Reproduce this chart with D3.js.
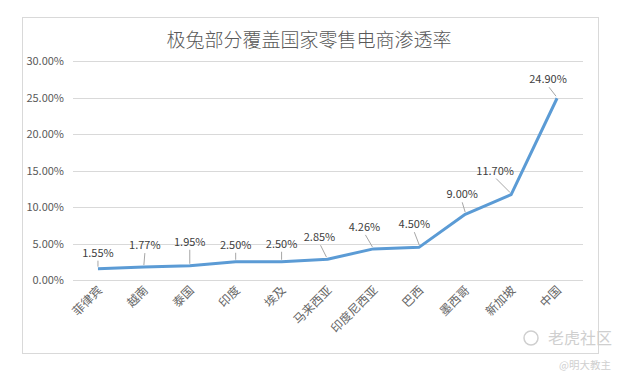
<!DOCTYPE html>
<html lang="zh">
<head>
<meta charset="UTF-8">
<title>极兔部分覆盖国家零售电商渗透率</title>
<style>
  body, html { margin: 0; padding: 0; background: #fff; }
  #svg { display: block; }
  text { font-family: "Noto Sans CJK SC", "Noto Sans", sans-serif; }
</style>
</head>
<body>
<svg id="svg" width="622" height="376"></svg>
<script src="https://d3js.org/d3.v7.min.js"></script>
<script>
// data
const countries = ['菲律宾', '越南', '泰国', '印度', '埃及', '马来西亚', '印度尼西亚', '巴西', '墨西哥', '新加坡', '中国']
const rates = [1.55, 1.77, 1.95, 2.50, 2.50, 2.85, 4.26, 4.50, 9.00, 11.70, 24.90]
const yTicks = [0, 5, 10, 15, 20, 25, 30]

// label nudges (dx, dy from the point), Excel moved them around by hand
const nudgeX = [0, 1, 0, 0, 0, -8, -9, -5, -3, -16, -9]
const nudgeY = [-16, -22, -24, -17, -18, -22, -22, -23, -20, -24, -19]

const svg = d3.select('#svg')

// chart frame
svg.append('rect')
  .attr('x', 22.5).attr('y', 17.5)
  .attr('width', 576).attr('height', 336)
  .attr('fill', '#fff')
  .attr('stroke', '#d9d9d9')

svg.append('text')
  .attr('x', 309).attr('y', 47)
  .attr('text-anchor', 'middle')
  .attr('font-size', 19)
  .attr('font-weight', 300)
  .attr('fill', '#595959')
  .text('极兔部分覆盖国家零售电商渗透率')

const xscale = d3.scaleBand()
  .domain(countries)
  .range([75, 580])

const yscale = d3.scaleLinear()
  .domain([0, 30])
  .range([280, 61])

// gridlines
svg.append('g')
  .selectAll('line')
  .data(yTicks)
  .join('line')
  .attr('x1', 73).attr('x2', 583)
  .attr('y1', d => Math.round(yscale(d)) + 0.5)
  .attr('y2', d => Math.round(yscale(d)) + 0.5)
  .attr('stroke', '#d9d9d9')

// y axis labels
svg.append('g')
  .selectAll('text')
  .data(yTicks)
  .join('text')
  .attr('x', 64)
  .attr('y', d => yscale(d) + 4)
  .attr('text-anchor', 'end')
  .attr('font-size', 11)
  .attr('fill', '#595959')
  .text(d => d.toFixed(2) + '%')

// x axis labels, rotated
const cx = d => xscale(d) + xscale.bandwidth() / 2
svg.append('g')
  .selectAll('text')
  .data(countries)
  .join('text')
  .attr('transform', d => `translate(${cx(d) + 5},${291}) rotate(-45)`)
  .attr('text-anchor', 'end')
  .attr('font-size', 12)
  .attr('fill', '#666')
  .attr('font-family', '"Noto Serif CJK SC", "Noto Sans CJK SC", serif')
  .text(d => d)

const pts = countries.map((c, i) => ({ c, v: rates[i], i }))

// the line
const linegen = d3.line()
  .x(d => cx(d.c))
  .y(d => yscale(d.v))

svg.append('path')
  .attr('d', linegen(pts))
  .attr('fill', 'none')
  .attr('stroke', '#5b9bd5')
  .attr('stroke-width', 3)
  .attr('stroke-linejoin', 'round')

// leader lines
svg.append('g')
  .selectAll('line')
  .data(pts)
  .join('line')
  .attr('x1', d => cx(d.c) + nudgeX[d.i] + (nudgeX[d.i] < -5 ? 1 : 0))
  .attr('y1', d => yscale(d.v) + nudgeY[d.i] + 8)
  .attr('x2', d => cx(d.c) - (nudgeX[d.i] < -5 ? 1 : 0))
  .attr('y2', d => yscale(d.v) - 2)
  .attr('stroke', '#a6a6a6')
  .attr('stroke-width', 1)

// value labels
svg.append('g')
  .selectAll('text')
  .data(pts)
  .join('text')
  .attr('x', d => cx(d.c) + nudgeX[d.i])
  .attr('y', d => yscale(d.v) + nudgeY[d.i] + 4)
  .attr('text-anchor', 'middle')
  .attr('font-size', 11)
  .attr('fill', '#404040')
  .text(d => d.v.toFixed(2) + '%')

// watermark
const wm = svg.append('g').attr('fill', '#cfcfcf')
wm.append('circle')
  .attr('cx', 531).attr('cy', 338).attr('r', 7)
  .attr('fill', 'none').attr('stroke', '#cfcfcf').attr('stroke-width', 1.5)
wm.append('text')
  .attr('x', 548).attr('y', 344)
  .attr('font-size', 16)
  .text('老虎社区')
wm.append('text')
  .attr('x', 611).attr('y', 369)
  .attr('text-anchor', 'end')
  .attr('font-size', 10.5)
  .text('@明大教主')
</script>
</body>
</html>
